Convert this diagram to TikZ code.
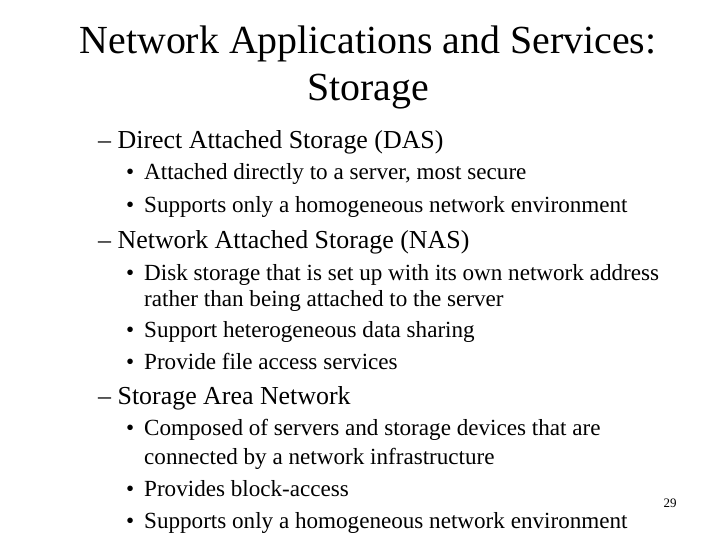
\documentclass[tikz,border=0pt]{standalone}
\usepackage{fontspec}
\setmainfont{Liberation Serif}
\newcommand{\bul}{\makebox[18bp][l]{•}}
\begin{document}
\begin{tikzpicture}[x=1bp,y=-1bp,
  title/.style={font=\fontsize{40}{48}\selectfont,align=center,inner sep=0},
  lone/.style={font=\fontsize{26}{32}\selectfont,anchor=mid west,inner sep=0},
  ltwo/.style={font=\fontsize{23.2}{26}\selectfont,anchor=mid west,inner sep=0},
  pnum/.style={font=\fontsize{13}{16}\selectfont,anchor=mid,inner sep=0}]
\useasboundingbox (0,0) rectangle (720,540);
\node[title] (t1) at (368,44) {Network Applications and Services:};
\node[title] (t2) at (368,92) {Storage};
\node[lone] (a) at (98,146) {– Direct Attached Storage (DAS)};
\node[ltwo] (a1) at (126,177) {\bul Attached directly to a server, most secure};
\node[ltwo] (a2) at (126,210) {\bul Supports only a homogeneous network environment};
\node[lone] (b) at (98,246) {– Network Attached Storage (NAS)};
\node[ltwo] (b1) at (126,278) {\bul Disk storage that is set up with its own network address};
\node[ltwo] (b1b) at (144,304) {rather than being attached to the server};
\node[ltwo] (b2) at (126,335) {\bul Support heterogeneous data sharing};
\node[ltwo] (b3) at (126,367) {\bul Provide file access services};
\node[lone] (c) at (98,402) {– Storage Area Network};
\node[ltwo] (c1) at (126,433) {\bul Composed of servers and storage devices that are};
\node[ltwo] (c1b) at (144,462) {connected by a network infrastructure};
\node[ltwo] (c2) at (126,494) {\bul Provides block-access};
\node[ltwo] (c3) at (126,526) {\bul Supports only a homogeneous network environment};
\node[pnum] (p) at (670,505) {29};
\end{tikzpicture}
\end{document}
